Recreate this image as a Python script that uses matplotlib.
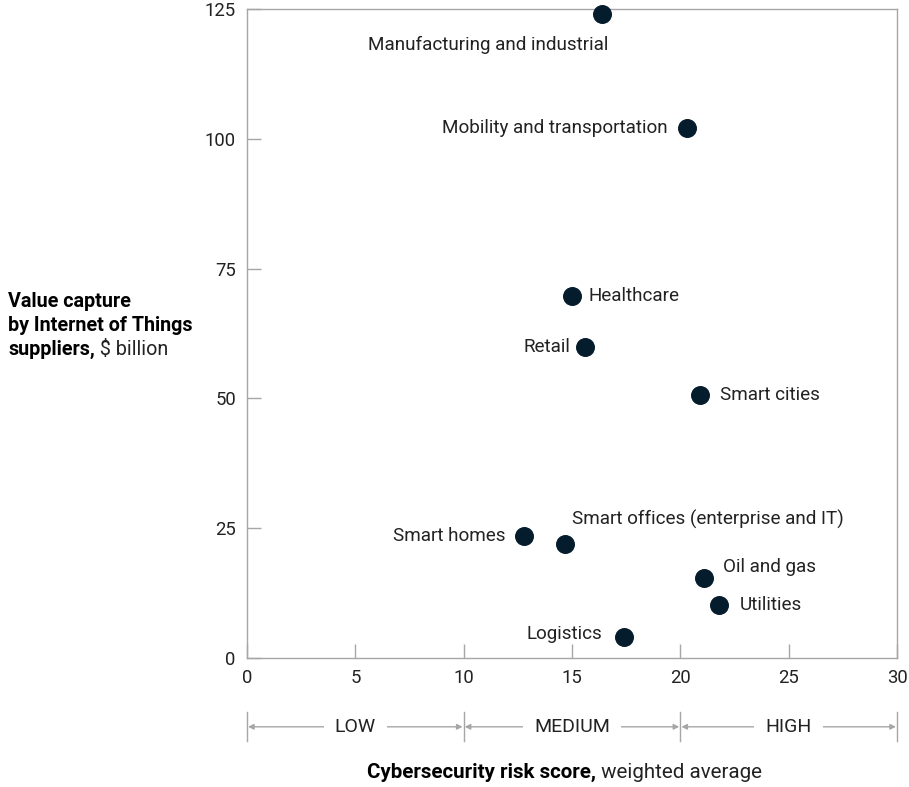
import matplotlib
matplotlib.use('Agg')
from matplotlib import pyplot as plt
from matplotlib.transforms import blended_transform_factory

plt.rcParams['font.family'] = ['Roboto', 'DejaVu Sans']

# IoT verticals: cybersecurity risk score vs value captured by suppliers
sectors = ['Manufacturing and industrial', 'Mobility and transportation', 'Healthcare',
           'Retail', 'Smart cities', 'Smart homes', 'Smart offices (enterprise and IT)',
           'Oil and gas', 'Utilities', 'Logistics']
risk_score = [16.4, 20.3, 15.0, 15.6, 20.9, 12.8, 14.7, 21.1, 21.8, 17.4]
value_capture = [124, 102, 69.7, 59.9, 50.7, 23.5, 22.0, 15.4, 10.2, 4.0]

# label offsets in pixels from each dot, plus alignment
label_pos = [(-114, -31, 'center'), (-19, 0, 'right'), (17, 0, 'left'),
             (-15, 0, 'right'), (20, 0, 'left'), (-19, 0, 'right'),
             (7, 24, 'left'), (19, 11, 'left'), (20, 0, 'left'), (-22, 3, 'right')]

risk_bands = ['LOW', 'MEDIUM', 'HIGH']
band_edges = [0, 10, 20, 30]

x_ticks = [0, 5, 10, 15, 20, 25, 30]
y_ticks = [0, 25, 50, 75, 100, 125]

navy = '#051c2c'
grey = '#a6a6a6'
txt = '#222222'

fig = plt.figure(figsize=(9.09, 7.87), dpi=100)
ax = fig.add_axes([0.2717, 0.1639, 0.7151, 0.8247])

ax.scatter(risk_score, value_capture, s=160, color=navy, zorder=3, clip_on=False)
for name, x, y, (dx, dy, ha) in zip(sectors, risk_score, value_capture, label_pos):
    ax.annotate(name, (x, y), xytext=(dx, dy), textcoords='offset pixels',
                ha=ha, va='center', fontsize=13.6, color=txt)

ax.set_xlim(0, 30)
ax.set_ylim(0, 125)
ax.set_xticks(x_ticks)
ax.set_yticks(y_ticks)
ax.tick_params(direction='in', length=10, width=1, color=grey, labelsize=13.3,
               labelcolor=txt, pad=8)
for sp in ax.spines.values():
    sp.set_color(grey)
    sp.set_linewidth(1)

# risk band brackets under the x axis
tr = blended_transform_factory(ax.transData, ax.transAxes)
for e in band_edges:
    ax.plot([e, e], [-0.083, -0.128], transform=tr, color=grey, lw=1, clip_on=False)
for i, band in enumerate(risk_bands):
    lo, hi = band_edges[i], band_edges[i + 1]
    ax.annotate('', xy=(lo + 0.05, -0.106), xytext=(hi - 0.05, -0.106), xycoords=tr,
                textcoords=tr, arrowprops=dict(arrowstyle='<|-|>', color=grey, lw=1,
                                               mutation_scale=8, shrinkA=0, shrinkB=0))
    ax.text((lo + hi) / 2, -0.106, band, transform=tr, ha='center', va='center',
            fontsize=14, color=txt,
            bbox=dict(facecolor='white', edgecolor='none', pad=8))

# axis titles, bold part followed by a regular part
xt = fig.text(0.404, 0.011, 'Cybersecurity risk score,', fontsize=14.8,
              fontweight='bold', color='black', va='baseline')
ax.annotate(' weighted average', xy=(1, 0), xycoords=xt, va='bottom',
            fontsize=14.8, color=txt)

fig.text(0.009, 0.6099, 'Value capture', fontsize=14.2, fontweight='bold', va='baseline')
fig.text(0.009, 0.5794, 'by Internet of Things', fontsize=14.2, fontweight='bold', va='baseline')
yt = fig.text(0.009, 0.5489, 'suppliers,', fontsize=14.2, fontweight='bold', va='baseline')
ax.annotate(' $ billion', xy=(1, 0), xycoords=yt, va='bottom', fontsize=14.2, color=txt)

fig.savefig('out.png', dpi=100)
